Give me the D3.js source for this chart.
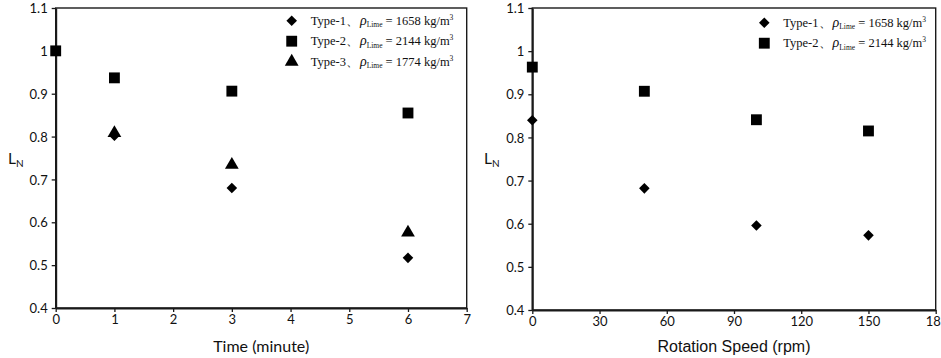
<!DOCTYPE html>
<html><head><meta charset="utf-8">
<script src="https://cdn.jsdelivr.net/npm/d3@7"></script>
<style>
body{margin:0;background:#fff;}
svg{display:block;}
.tick text{font-family:Lato,"Open Sans",sans-serif;font-size:13px;fill:#111;}
</style></head>
<body>
<svg id="c" width="941" height="358"></svg>
<script>
// ---- data ----
const yTicks = [0.4,0.5,0.6,0.7,0.8,0.9,1.0,1.1];
const yTickLabels = ["0.4","0.5","0.6","0.7","0.8","0.9","1","1.1"];
const timeTicks = [0,1,2,3,4,5,6,7];
const timeTickLabels = ["0","1","2","3","4","5","6","7"];
const speedTicks = [0,30,60,90,120,150,180];
const speedTickLabels = ["0","30","60","90","120","150","18"];

const timeX = [0,1,3,6];
const timeType1 = [null,0.802,0.680,0.517];
const timeType2 = [1.000,0.937,0.906,0.855];
const timeType3 = [null,0.808,0.734,0.576];

const speedX = [0,50,100,150];
const speedType1 = [0.840,0.682,0.596,0.573];
const speedType2 = [0.963,0.907,0.841,0.815];

const legendNames = ["Type-1","Type-2","Type-3"];
const legendDensity = ["1658","2144","1774"];

const svg = d3.select("#c");

function panel(cfg){
  const x = d3.scaleLinear().domain(cfg.xDomain).range(cfg.xRange);
  const y = d3.scaleLinear().domain([0.4,1.1]).range(cfg.yRange);
  const g = svg.append("g");
  g.append("rect").attr("x",cfg.xRange[0]).attr("y",cfg.yRange[1])
    .attr("width",cfg.xRange[1]-cfg.xRange[0]).attr("height",cfg.yRange[0]-cfg.yRange[1])
    .attr("fill","none").attr("stroke","#1a1a1a").attr("stroke-width",1.4);
  const ax = g.append("g").attr("transform",`translate(0,${cfg.yRange[0]})`)
    .call(d3.axisBottom(x).tickValues(cfg.xTicks).tickSize(4).tickSizeOuter(0).tickPadding(3).tickFormat((d,i)=>cfg.xTickLabels[i]));
  const ay = g.append("g").attr("transform",`translate(${cfg.xRange[0]},0)`)
    .call(d3.axisLeft(y).tickValues(yTicks).tickSize(4).tickSizeOuter(0).tickPadding(4).tickFormat((d,i)=>yTickLabels[i]));
  [ax,ay].forEach(a=>{a.select(".domain").attr("stroke","#1a1a1a").attr("stroke-width",2);
    a.selectAll(".tick line").attr("stroke","#1a1a1a").attr("stroke-width",1.3);});
  ay.selectAll(".tick text").attr("dy","0.36em");
  if(cfg.clipLast){
    ax.selectAll(".tick:last-of-type text").attr("text-anchor","start").attr("dx",-10.5);
  }
  g.append("text").attr("x",(cfg.xRange[0]+cfg.xRange[1])/2).attr("y",352)
    .attr("text-anchor","middle").attr("font-family",cfg.titleFont).attr("font-size",16).attr("fill","#111").text(cfg.xTitle);
  const ln = g.append("text").attr("x",cfg.lnX).attr("y",164).attr("font-family","Lato,sans-serif").attr("font-size",15.5).attr("fill","#111");
  ln.append("tspan").text("L");
  ln.append("tspan").attr("font-size",10).attr("dy",3).text("N");

  const sym = {
    diamond: {d:d3.symbol().type(d3.symbolSquare).size(56)(), rot:45},
    square: {d:d3.symbol().type(d3.symbolSquare).size(118)(), rot:0},
    triangle: {d:d3.symbol().type(d3.symbolTriangle).size(82)(), rot:0}
  };
  cfg.series.forEach(s=>{
    const pts = cfg.xs.map((xv,i)=>({x:xv,y:s.values[i]})).filter(p=>p.y!=null);
    g.selectAll(null).data(pts).enter().append("path")
      .attr("d",sym[s.shape].d).attr("fill","#000")
      .attr("transform",p=>`translate(${x(p.x)},${y(p.y)}) rotate(${sym[s.shape].rot})`);
  });
  cfg.series.forEach((s,i)=>{
    const ly = cfg.legY + i*20.5;
    g.append("path").attr("d",sym[s.shape].d).attr("fill","#000")
      .attr("transform",`translate(${cfg.legX},${ly}) rotate(${sym[s.shape].rot})`);
    const t = g.append("text").attr("x",cfg.legX+19).attr("y",ly+4)
      .attr("font-family","'Liberation Serif','Times New Roman',serif").attr("font-size",12.5).attr("fill","#111");
    t.append("tspan").attr("fill","#111").text(legendNames[i]+"、");
    t.append("tspan").attr("fill","#111").attr("font-style","italic").attr("font-size",14).attr("dx",1).text("ρ");
    t.append("tspan").attr("fill","#111").attr("font-size",7.5).attr("dy",2.5).text("Lime");
    t.append("tspan").attr("fill","#111").attr("dy",-2.5).text(" = "+legendDensity[i]+" kg/m");
    t.append("tspan").attr("fill","#111").attr("font-size",7.5).attr("dy",-5).text("3");
  });
}

panel({
  xDomain:[0,7], xRange:[55.7,466.7], yRange:[308,8], xTicks:timeTicks, xTickLabels:timeTickLabels,
  xTitle:"Time (minute)", titleFont:"Lato,'Open Sans',sans-serif", lnX:8,
  xs:timeX, legX:291.7, legY:20.7, clipLast:false,
  series:[{shape:"diamond",values:timeType1},{shape:"square",values:timeType2},{shape:"triangle",values:timeType3}]
});
panel({
  xDomain:[0,180], xRange:[532.3,935.7], yRange:[310,8], xTicks:speedTicks, xTickLabels:speedTickLabels,
  xTitle:"Rotation Speed  (rpm)", titleFont:"'Liberation Sans',Arial,sans-serif", lnX:484,
  xs:speedX, legX:764.3, legY:22.7, clipLast:true,
  series:[{shape:"diamond",values:speedType1},{shape:"square",values:speedType2}]
});
</script>
</body></html>
